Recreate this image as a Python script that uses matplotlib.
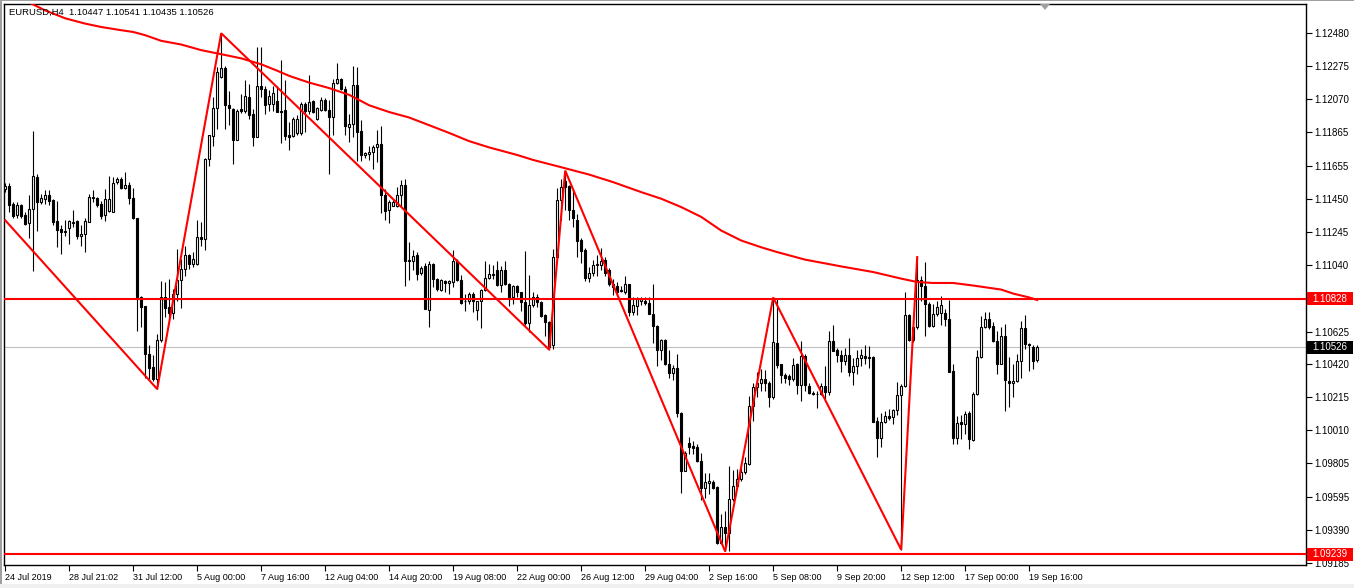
import matplotlib
matplotlib.use("Agg")
import matplotlib.pyplot as plt
from matplotlib.patches import Rectangle, Polygon

# ---------------- data (EURUSD H4) ----------------
opens = [1.11511,1.11532,1.11420,1.11348,1.11414,1.11348,1.11303,1.11389,1.11589,1.11431,
1.11451,1.11472,1.11441,1.11311,1.11263,1.11253,1.11267,1.11303,1.11311,1.11218,
1.11230,1.11307,1.11459,1.11455,1.11416,1.11352,1.11373,1.11369,1.11554,1.11571,
1.11517,1.11534,1.11457,1.11328,1.10837,1.10781,1.10487,1.10407,1.10329,1.10574,
1.10837,1.10775,1.10740,1.10858,1.10946,1.11016,1.11098,1.11045,1.11047,1.11214,
1.11201,1.11696,1.11842,1.12015,1.12210,1.12266,1.12032,1.12011,1.11815,1.12007,
1.11994,1.12083,1.11980,1.11832,1.12153,1.12132,1.12042,1.12042,1.12056,1.11995,
1.12001,1.11846,1.11840,1.11857,1.11857,1.12042,1.11997,1.12056,1.11949,1.12001,
1.12067,1.12005,1.11960,1.12169,1.12194,1.12132,1.11898,1.11918,1.12159,1.11871,
1.11723,1.11729,1.11739,1.11770,1.11789,1.11476,1.11379,1.11406,1.11406,1.11476,
1.11534,1.11068,1.11064,1.11099,1.10989,1.11030,1.10759,1.11047,1.10954,1.10883,
1.10940,1.10924,1.10934,1.11064,1.10948,1.10817,1.10817,1.10858,1.10759,1.10813,
1.10883,1.10961,1.10985,1.11006,1.10913,1.11006,1.10919,1.10841,1.10907,1.10868,
1.10806,1.10677,1.10792,1.10837,1.10806,1.10730,1.10683,1.10539,1.11088,1.11445,
1.11564,1.11527,1.11383,1.11317,1.11195,1.11129,1.10961,1.10989,1.11041,1.11041,
1.11067,1.11010,1.10923,1.10909,1.10882,1.10868,1.10919,1.10744,1.10786,1.10816,
1.10812,1.10800,1.10734,1.10662,1.10512,1.10574,1.10426,1.10364,1.10397,1.10117,
1.09760,1.09929,1.09914,1.09904,1.09821,1.09653,1.09686,1.09688,1.09657,1.09307,
1.09410,1.09375,1.09581,1.09663,1.09708,1.09749,1.09801,1.10164,1.10277,1.10308,
1.10329,1.10308,1.10216,1.10553,1.10421,1.10355,1.10349,1.10329,1.10421,1.10292,
1.10473,1.10287,1.10240,1.10236,1.10236,1.10287,1.10246,1.10565,1.10512,1.10479,
1.10442,1.10479,1.10376,1.10411,1.10462,1.10473,1.10467,1.10467,1.10067,1.09965,
1.10061,1.10102,1.10092,1.10137,1.10232,1.10287,1.10730,1.10652,1.10652,1.10944,
1.10909,1.10796,1.10662,1.10734,1.10738,1.10742,1.10703,1.10380,1.09965,1.10061,
1.10047,1.10117,1.09949,1.10236,1.10467,1.10652,1.10703,1.10662,1.10569,1.10425,
1.10600,1.10318,1.10304,1.10318,1.10442,1.10648,1.10549,1.10528,1.10447]

highs = [1.11550,1.11550,1.11431,1.11431,1.11420,1.11369,1.11476,1.11871,1.11606,1.11482,
1.11503,1.11503,1.11451,1.11435,1.11287,1.11317,1.11319,1.11379,1.11317,1.11287,
1.11328,1.11482,1.11503,1.11462,1.11435,1.11513,1.11591,1.11585,1.11585,1.11585,
1.11616,1.11554,1.11517,1.11332,1.10843,1.10785,1.10539,1.10477,1.10611,1.10940,
1.10930,1.10950,1.10888,1.11140,1.11078,1.11160,1.11109,1.11119,1.11317,1.11304,
1.11702,1.11850,1.12083,1.12272,1.12480,1.12278,1.12118,1.12015,1.12011,1.12104,
1.12190,1.12163,1.12011,1.12396,1.12396,1.12149,1.12128,1.12149,1.12149,1.12313,
1.12190,1.11929,1.11960,1.11970,1.12052,1.12052,1.12221,1.12062,1.12021,1.12083,
1.12079,1.12062,1.12194,1.12293,1.12200,1.12149,1.11976,1.12276,1.12272,1.11939,
1.11744,1.11779,1.11785,1.11877,1.11902,1.11513,1.11441,1.11445,1.11523,1.11565,
1.11575,1.11181,1.11134,1.11117,1.11030,1.11051,1.11064,1.11051,1.10961,1.10954,
1.10948,1.10948,1.11129,1.11078,1.10975,1.10858,1.10868,1.10868,1.10817,1.10889,
1.11064,1.11043,1.11037,1.11064,1.11030,1.11064,1.10928,1.10913,1.10913,1.10872,
1.11125,1.10977,1.10868,1.10858,1.10812,1.10734,1.10693,1.11139,1.11519,1.11575,
1.11626,1.11534,1.11513,1.11359,1.11207,1.11146,1.11026,1.11067,1.11098,1.11146,
1.11088,1.11022,1.10950,1.10936,1.10909,1.10971,1.10923,1.10837,1.10841,1.10841,
1.10837,1.10837,1.10919,1.10668,1.10580,1.10580,1.10508,1.10417,1.10483,1.10123,
1.09883,1.09966,1.09945,1.09925,1.09867,1.09743,1.09743,1.09702,1.09663,1.09488,
1.09509,1.09791,1.09764,1.09770,1.09791,1.09842,1.10226,1.10308,1.10376,1.10391,
1.10384,1.10319,1.10837,1.10827,1.10425,1.10370,1.10360,1.10458,1.10432,1.10565,
1.10483,1.10308,1.10257,1.10257,1.10308,1.10411,1.10627,1.10668,1.10524,1.10508,
1.10524,1.10582,1.10458,1.10508,1.10514,1.10541,1.10535,1.10473,1.10092,1.10117,
1.10129,1.10144,1.10144,1.10314,1.10298,1.10868,1.10734,1.10656,1.11088,1.10971,
1.11057,1.10806,1.10796,1.10816,1.10847,1.10765,1.10821,1.10421,1.10102,1.10108,
1.10133,1.10133,1.10246,1.10508,1.10724,1.10744,1.10744,1.10683,1.10627,1.10656,
1.10672,1.10467,1.10421,1.10483,1.10693,1.10730,1.10553,1.10539,1.10541]

lows = [1.11492,1.11369,1.11332,1.11328,1.11328,1.11287,1.11205,1.11000,1.11249,1.11420,
1.11420,1.11410,1.11287,1.11150,1.11109,1.11218,1.11170,1.11273,1.11201,1.11156,
1.11119,1.11307,1.11431,1.11400,1.11324,1.11311,1.11369,1.11369,1.11544,1.11513,
1.11513,1.11420,1.11324,1.10631,1.10652,1.10339,1.10329,1.10319,1.10267,1.10559,
1.10713,1.10703,1.10703,1.10816,1.10769,1.10971,1.11016,1.11026,1.11041,1.11160,
1.11129,1.11657,1.11780,1.11887,1.12200,1.11887,1.11908,1.11665,1.11815,1.11986,
1.11986,1.11945,1.11780,1.11832,1.12083,1.11980,1.11995,1.11997,1.11990,1.11799,
1.11816,1.11754,1.11836,1.11850,1.11850,1.11867,1.11980,1.11984,1.11943,1.11997,
1.11997,1.11606,1.11850,1.12165,1.12128,1.11846,1.11805,1.11836,1.11684,1.11688,
1.11704,1.11692,1.11637,1.11678,1.11363,1.11318,1.11297,1.11404,1.11400,1.11400,
1.10909,1.10948,1.11010,1.10948,1.10975,1.10763,1.10652,1.10899,1.10878,1.10878,
1.10868,1.10858,1.10899,1.10940,1.10796,1.10755,1.10796,1.10745,1.10697,1.10648,
1.10874,1.10954,1.10954,1.10907,1.10868,1.10913,1.10786,1.10796,1.10837,1.10755,
1.10668,1.10621,1.10775,1.10775,1.10714,1.10600,1.10512,1.10518,1.11078,1.11317,
1.11379,1.11317,1.11273,1.11088,1.11051,1.10940,1.10930,1.10971,1.10971,1.11006,
1.10971,1.10909,1.10854,1.10854,1.10868,1.10858,1.10724,1.10730,1.10730,1.10792,
1.10792,1.10734,1.10553,1.10411,1.10446,1.10417,1.10335,1.10323,1.10096,1.09622,
1.09756,1.09863,1.09863,1.09811,1.09575,1.09591,1.09612,1.09647,1.09303,1.09303,
1.09257,1.09262,1.09571,1.09653,1.09694,1.09739,1.09797,1.10069,1.10216,1.10257,
1.10257,1.10158,1.10205,1.10397,1.10308,1.10308,1.10292,1.10318,1.10236,1.10191,
1.10257,1.10236,1.10232,1.10150,1.10232,1.10205,1.10232,1.10504,1.10438,1.10376,
1.10417,1.10349,1.10294,1.10360,1.10411,1.10421,1.10401,1.10061,1.09842,1.09904,
1.10055,1.10076,1.10051,1.10108,1.09268,1.10277,1.10569,1.10559,1.10641,1.10816,
1.10600,1.10656,1.10656,1.10724,1.10668,1.10662,1.10376,1.09928,1.09924,1.09955,
1.09990,1.09893,1.09945,1.10232,1.10462,1.10648,1.10641,1.10559,1.10360,1.10421,
1.10129,1.10154,1.10215,1.10314,1.10339,1.10518,1.10380,1.10390,1.10435]

closes = [1.11532,1.11410,1.11344,1.11410,1.11344,1.11295,1.11389,1.11595,1.11431,1.11455,
1.11476,1.11437,1.11307,1.11259,1.11247,1.11247,1.11311,1.11309,1.11218,1.11234,
1.11315,1.11459,1.11453,1.11414,1.11344,1.11447,1.11451,1.11550,1.11571,1.11517,
1.11538,1.11455,1.11328,1.10837,1.10775,1.10487,1.10401,1.10329,1.10574,1.10837,
1.10769,1.10740,1.10858,1.10946,1.11016,1.11102,1.11047,1.11078,1.11214,1.11201,
1.11696,1.11846,1.12015,1.12237,1.12266,1.12032,1.12015,1.11815,1.11994,1.11994,
1.12087,1.11974,1.11832,1.12153,1.12132,1.12032,1.12087,1.12108,1.11990,1.11990,
1.11840,1.11836,1.11949,1.11949,1.12042,1.11997,1.12052,1.11990,1.12015,1.12067,
1.12001,1.11960,1.12169,1.12194,1.12132,1.11902,1.11918,1.12159,1.11867,1.11723,
1.11737,1.11744,1.11774,1.11789,1.11476,1.11375,1.11431,1.11431,1.11476,1.11534,
1.11064,1.11064,1.11092,1.10985,1.11022,1.10763,1.11047,1.10954,1.10889,1.10944,
1.10928,1.10940,1.11064,1.10948,1.10804,1.10813,1.10858,1.10817,1.10813,1.10883,
1.10961,1.10985,1.10977,1.10913,1.11010,1.10919,1.10841,1.10907,1.10868,1.10806,
1.10677,1.10792,1.10837,1.10806,1.10724,1.10683,1.10528,1.11088,1.11445,1.11523,
1.11523,1.11383,1.11328,1.11191,1.11125,1.10961,1.10989,1.11041,1.11045,1.11063,
1.10989,1.10919,1.10899,1.10868,1.10874,1.10919,1.10744,1.10792,1.10833,1.10833,
1.10800,1.10734,1.10662,1.10512,1.10574,1.10421,1.10364,1.10397,1.10117,1.09760,
1.09867,1.09908,1.09900,1.09821,1.09653,1.09688,1.09694,1.09653,1.09307,1.09410,
1.09375,1.09581,1.09663,1.09708,1.09749,1.09805,1.10164,1.10277,1.10308,1.10329,
1.10308,1.10216,1.10559,1.10417,1.10355,1.10339,1.10329,1.10415,1.10292,1.10473,
1.10292,1.10240,1.10236,1.10234,1.10287,1.10246,1.10565,1.10504,1.10479,1.10442,
1.10479,1.10376,1.10411,1.10462,1.10477,1.10462,1.10462,1.10065,1.09965,1.10061,
1.10102,1.10088,1.10137,1.10232,1.10287,1.10730,1.10573,1.10573,1.10944,1.10909,
1.10796,1.10662,1.10734,1.10779,1.10790,1.10703,1.10376,1.09965,1.10055,1.10047,
1.10113,1.09955,1.10236,1.10467,1.10652,1.10703,1.10656,1.10565,1.10425,1.10600,
1.10323,1.10304,1.10318,1.10442,1.10648,1.10549,1.10539,1.10442,1.10526]

# moving average (bar index, value)
ma_bars = [0,7,10,15,20,24,29,32,35,39,44,49,53,59,64,68,71,76,81,86,91,96,101,106,111,116,
           121,128,132,139,146,152,159,164,169,174,179,184,189,193,200,209,217,224,228,232,
           237,242,249,252,256,258]
ma_vals = [1.12733,1.12659,1.12622,1.12573,1.12540,1.12519,1.12499,1.12488,1.12468,1.12433,
           1.12410,1.12375,1.12355,1.12324,1.12287,1.12247,1.12215,1.12173,1.12139,1.12097,
           1.12032,1.11990,1.11956,1.11908,1.11860,1.11809,1.11770,1.11723,1.11692,1.11647,
           1.11601,1.11554,1.11492,1.11451,1.11399,1.11338,1.11253,1.11191,1.11149,1.11119,
           1.11072,1.11030,1.10995,1.10954,1.10933,1.10927,1.10927,1.10911,1.10886,1.10861,
           1.10837,1.10821]

# zigzag vertices
zz_bars = [0, 38, 54, 136, 140, 180, 192, 224, 228]
zz_vals = [1.11317, 1.10267, 1.12480, 1.10512, 1.11626, 1.09257, 1.10837, 1.09268, 1.11088]

hline_levels = [1.10828, 1.09239]
bid_price = 1.10526

ytick_vals = [1.12480,1.12275,1.12070,1.11865,1.11655,1.11450,1.11245,1.11040,
              1.10625,1.10420,1.10215,1.10010,1.09805,1.09595,1.09390,1.09185]
xtick_bars = [0,16,32,48,64,80,96,112,128,144,160,176,192,208,224,240,256]
xtick_labels = ["24 Jul 2019","28 Jul 21:02","31 Jul 12:00","5 Aug 00:00","7 Aug 16:00",
                "12 Aug 04:00","14 Aug 20:00","19 Aug 08:00","22 Aug 00:00","26 Aug 12:00",
                "29 Aug 04:00","2 Sep 16:00","5 Sep 08:00","9 Sep 20:00","12 Sep 12:00",
                "17 Sep 00:00","19 Sep 16:00"]
title = "EURUSD,H4  1.10447 1.10541 1.10435 1.10526"

# ---------------- figure ----------------
W, H = 1354, 588
plt.rcParams['font.family'] = ['Liberation Sans', 'DejaVu Sans']
fig = plt.figure(figsize=(W / 100, H / 100), dpi=100)
fig.patch.set_facecolor('white')
ax = fig.add_axes([4 / W, 23 / H, 1302 / W, 561 / H])
ax.set_facecolor('white')

ax.set_xlim(-0.3, 325.2)
ax.set_ylim(1.09173, 1.12662)

idx = list(range(len(opens)))

# bid line (behind candles)
ax.axhline(bid_price, color='#c0c0c0', lw=0.8, zorder=1)

# wicks
ax.vlines(idx, lows, highs, color='black', lw=0.8, zorder=2)
# bodies
bottoms = [min(o, c) for o, c in zip(opens, closes)]
heights = [abs(c - o) for o, c in zip(opens, closes)]
faces = ['white' if c >= o else 'black' for o, c in zip(opens, closes)]
ax.bar(idx, heights, bottom=bottoms, width=0.5, color=faces, edgecolor='black',
       linewidth=0.8, zorder=3)

# red overlays
for lv in hline_levels:
    ax.axhline(lv, color='#ff0000', lw=1.5, zorder=4)
ax.plot(ma_bars, ma_vals, color='#ff0000', lw=1.5, zorder=5, solid_joinstyle='round')
ax.plot(zz_bars, zz_vals, color='#ff0000', lw=1.5, zorder=5, solid_joinstyle='miter')

# spines / ticks
for s in ax.spines.values():
    s.set_color('black')
    s.set_linewidth(1.0)
ax.yaxis.tick_right()
ax.set_yticks(ytick_vals)
ax.set_yticklabels([f"{v:.5f}" for v in ytick_vals])
ax.tick_params(axis='y', direction='out', length=4, width=0.8, pad=2,
               labelsize=7.0, colors='black')
ax.set_xticks(xtick_bars)
ax.set_xticklabels(xtick_labels)
ax.tick_params(axis='x', direction='out', length=4, width=0.8, pad=1.5,
               labelsize=6.5, colors='black')
for lab in ax.get_xticklabels():
    lab.set_ha('left')

# price boxes on the right scale
ytrans = ax.get_yaxis_transform()
yr = (ax.get_ylim()[1] - ax.get_ylim()[0]) / 561.0
def price_box(price, fc):
    ax.add_patch(Rectangle((1 + 1 / 1302, price - 6.5 * yr), 46 / 1302, 13 * yr,
                           transform=ytrans, facecolor=fc, edgecolor='none',
                           clip_on=False, zorder=6))
    ax.text(1 + 6 / 1302, price, f"{price:.5f}", transform=ytrans, color='white',
            fontsize=7.0, va='center', ha='left', zorder=7, clip_on=False)
price_box(hline_levels[0], '#ff0000')
price_box(bid_price, 'black')
price_box(hline_levels[1], '#ff0000')

# title
fig.text(9 / W, 1 - 12.5 / H, title, fontsize=6.8, va='center', ha='left', color='black')

# shift marker triangle at top
tri = Polygon([(1040 / W, 1 - 4 / H), (1050 / W, 1 - 4 / H), (1045 / W, 1 - 10 / H)],
              closed=True, transform=fig.transFigure, facecolor='#a0a0a0', edgecolor='none')
fig.patches.append(tri)

# window border
fig.patches.append(Rectangle((0, 0), 2 / W, 1, transform=fig.transFigure,
                             facecolor='#a0a0a0', edgecolor='none'))
fig.patches.append(Rectangle((0, 1 - 1 / H), 1, 1 / H, transform=fig.transFigure,
                             facecolor='#a0a0a0', edgecolor='none'))
fig.patches.append(Rectangle((0, 0), 1, 4 / H, transform=fig.transFigure,
                             facecolor='#f0f0f0', edgecolor='none'))

fig.savefig("out.png", dpi=100, facecolor='white')
